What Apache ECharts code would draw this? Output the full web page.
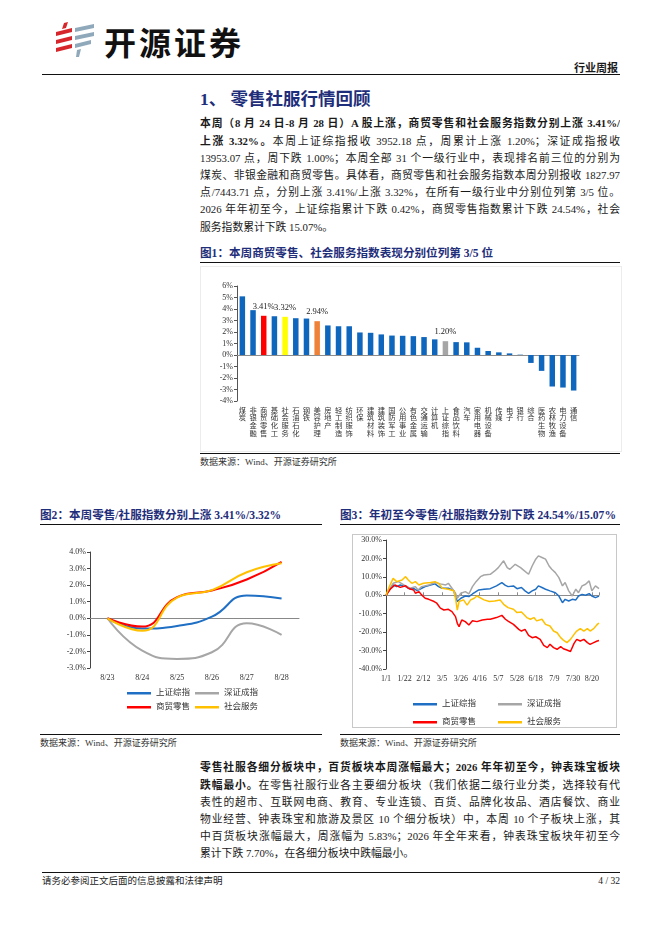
<!DOCTYPE html>
<html>
<head>
<meta charset="utf-8">
<script src="https://cdn.jsdelivr.net/npm/echarts@6/dist/echarts.min.js"></script>
<style>
  html, body { margin: 0; padding: 0; background: #fff; }
  body { width: 662px; height: 936px; position: relative; overflow: hidden;
         font-family: "Liberation Serif", "Noto Sans CJK SC", serif; color: #1a1a1a; }
  .abs { position: absolute; }
  .rule { position: absolute; height: 0; border-top: 1.3px solid #111; }
  .para { position: absolute; left: 200px; width: 420px; font-size: 10.8px; }
  .ln { height: 17.2px; line-height: 17.2px; text-align: justify; text-align-last: justify; overflow: hidden; }
  .ln.last { text-align-last: left; }
  b { font-weight: 700; }
  .ftitle { position: absolute; font-size: 11.6px; font-weight: 700; color: #1f2e7a; line-height: 14px; white-space: nowrap; }
  .src { position: absolute; font-size: 9px; line-height: 12px; color: #333; white-space: nowrap; }
</style>
</head>
<body>

<!-- header -->
<svg class="abs" style="left:55px;top:22px" width="40" height="36" viewBox="0 0 40 36">
  <polygon points="9,1 13,0 11,6 7,7" fill="#d7262b"/>
  <polygon points="1,10 17,6 17,10 1,14" fill="#d7262b"/>
  <polygon points="1,18 17,14 17,18 1,22" fill="#d7262b"/>
  <polygon points="1,26 17,22 17,26 1,30" fill="#d7262b"/>
  <polygon points="20,6 39,2 39,6 20,10" fill="#8fa9bb"/>
  <polygon points="20,14 39,10 39,14 20,18" fill="#8fa9bb"/>
  <polygon points="20,22 36,18 36,22 20,26" fill="#8fa9bb"/>
  <polygon points="22,28 26,27 24,35 21,35" fill="#8fa9bb"/>
</svg>
<div class="abs" style="left:104px;top:21px;font-family:'Noto Sans CJK SC';font-weight:700;font-size:32px;line-height:40px;letter-spacing:3px;color:#111">开源证券</div>
<div class="abs" style="left:574px;top:61px;font-size:11px;font-weight:700;line-height:14px">行业周报</div>
<div class="rule" style="left:42px;top:74px;width:578px"></div>

<div class="abs" style="left:200px;top:89px;font-size:17.5px;font-weight:700;color:#1f2e7a;line-height:20px;white-space:nowrap">1、 零售社服行情回顾</div>

<div class="para" style="top:115.4px">
  <div class="ln"><b>本周（8 月 24 日-8 月 28 日）A 股上涨，商贸零售和社会服务指数分别上涨 3.41%/</b></div>
  <div class="ln"><b>上涨 3.32%。</b>本周上证综指报收 3952.18 点，周累计上涨 1.20%；深证成指报收</div>
  <div class="ln">13953.07 点，周下跌 1.00%；本周全部 31 个一级行业中，表现排名前三位的分别为</div>
  <div class="ln">煤炭、非银金融和商贸零售。具体看，商贸零售和社会服务指数本周分别报收 1827.97</div>
  <div class="ln">点/7443.71 点，分别上涨 3.41%/上涨 3.32%，在所有一级行业中分别位列第 3/5 位。</div>
  <div class="ln">2026 年年初至今，上证综指累计下跌 0.42%，商贸零售指数累计下跌 24.54%，社会</div>
  <div class="ln last">服务指数累计下跌 15.07%。</div>
</div>

<!-- figure 1 -->
<div class="ftitle" style="left:200px;top:247px">图1：本周商贸零售、社会服务指数表现分别位列第 3/5 位</div>
<div class="rule" style="left:200px;top:262px;width:420px"></div>
<div id="fig1" class="abs" style="left:200px;top:266px;width:422px;height:186px;box-shadow:inset 0 0 0 1px #ececec"></div>
<div class="rule" style="left:200px;top:453px;width:420px"></div>
<div class="src" style="left:200px;top:456px">数据来源：Wind、开源证券研究所</div>

<!-- figure 2 / 3 -->
<div class="ftitle" style="left:40px;top:509px">图2：本周零售/社服指数分别上涨 3.41%/3.32%</div>
<div class="rule" style="left:40px;top:524px;width:282px"></div>
<div class="ftitle" style="left:340px;top:509px">图3：年初至今零售/社服指数分别下跌 24.54%/15.07%</div>
<div class="rule" style="left:340px;top:524px;width:280px"></div>

<div id="fig2" class="abs" style="left:40px;top:532px;width:284px;height:200px"></div>
<div id="fig3" class="abs" style="left:352px;top:534px;width:265px;height:194px;box-shadow:inset 0 0 0 1px #c8c8c8"></div>

<div class="rule" style="left:40px;top:734px;width:282px"></div>
<div class="src" style="left:40px;top:737px">数据来源：Wind、开源证券研究所</div>
<div class="rule" style="left:340px;top:734px;width:280px"></div>
<div class="src" style="left:340px;top:737px">数据来源：Wind、开源证券研究所</div>

<div class="para" style="top:759.4px">
  <div class="ln"><b>零售社服各细分板块中，百货板块本周涨幅最大；2026 年年初至今，钟表珠宝板块</b></div>
  <div class="ln"><b>跌幅最小。</b>在零售社服行业各主要细分板块（我们依据二级行业分类，选择较有代</div>
  <div class="ln">表性的超市、互联网电商、教育、专业连锁、百货、品牌化妆品、酒店餐饮、商业</div>
  <div class="ln">物业经营、钟表珠宝和旅游及景区 10 个细分板块）中，本周 10 个子板块上涨，其</div>
  <div class="ln">中百货板块涨幅最大，周涨幅为 5.83%；2026 年全年来看，钟表珠宝板块年初至今</div>
  <div class="ln last">累计下跌 7.70%，在各细分板块中跌幅最小。</div>
</div>

<div class="rule" style="left:42px;top:872px;width:578px"></div>
<div class="src" style="left:42px;top:875px;font-size:9.5px;color:#222">请务必参阅正文后面的信息披露和法律声明</div>
<div class="src" style="left:560px;width:60px;top:875px;font-size:9.5px;color:#222;text-align:right">4 / 32</div>

<script>
var FONT = '"Liberation Serif", "Noto Sans CJK SC", serif';

// ---- figure 1: weekly change by industry (%)
var industries = ['煤炭','非银金融','商贸零售','基础化工','社会服务','石油石化','钢铁','美容护理','房地产','轻工制造','纺织服饰','环保','建筑材料','建筑装饰','国防军工','公用事业','有色金属','交通运输','计算机','上证综指','食品饮料','汽车','家用电器','机械设备','传媒','电子','银行','综合','医药生物','农林牧渔','电力设备','通信'];
var weeklyChange = [5.10,3.90,3.41,3.37,3.32,3.20,3.17,2.94,2.57,2.50,2.50,1.96,1.93,1.79,1.69,1.67,1.64,1.56,1.36,1.20,1.12,1.10,0.63,0.35,0.23,0.14,0.03,-0.69,-1.38,-2.74,-2.83,-3.09];
var fig1Ticks = [-4,-3,-2,-1,0,1,2,3,4,5,6];

// ---- figure 2: this week, cumulative change (%)
var weekDays = ['8/23','8/24','8/25','8/26','8/27','8/28'];
var weekSh = [0,-0.62,-0.46,0.10,1.38,1.20];
var weekSz = [0,-1.95,-2.45,-2.05,-0.30,-1.00];
var weekRetail = [0,-0.50,1.28,1.68,2.34,3.41];
var weekService = [0,-0.75,1.25,1.70,2.78,3.32];

// ---- figure 3: year to date, cumulative change (%); x = days since 1/1
var ytdTickLabels = ['1/1','1/22','2/12','3/5','3/26','4/16','5/7','5/28','6/18','7/9','7/30','8/20'];
var shDays = [0,4,8,12,16,22,27,31,35,40,44,50,55,59,63,70,76,78,80,84,89,93,97,101,104,110,117,124,130,134,137,143,147,152,156,160,164,168,171,175,179,184,190,194,198,201,205,209,213,216,220,224,228,231,235,239];
var shVals = [0,3.0,5.6,4.7,5.6,4.7,3.3,3.8,2.5,3.8,4.7,5.6,6.2,4.7,3.8,3.8,2.5,-0.7,-3.4,-1.6,-0.4,-0.7,0.7,2.0,2.9,3.3,3.6,5.1,6.9,5.4,4.7,5.1,3.6,4.2,2.4,1.1,2.4,3.3,5.1,4.2,3.3,2.4,1.4,-0.4,-4.0,-2.2,-3.1,-2.2,-2.5,-0.4,0.5,0.0,0.9,-0.4,-1.3,-0.42];
var szDays = [0,4,8,14,20,27,33,36,40,48,55,61,67,70,74,78,80,84,89,93,97,101,106,110,117,122,126,132,136,139,145,151,154,160,164,168,171,175,179,183,186,190,194,198,201,205,209,213,216,220,224,228,231,235,239];
var szVals = [0,3.5,6.5,7.4,5.6,3.8,4.7,2.9,4.7,5.6,6.9,6.2,5.6,6.5,3.8,1.1,-1.6,1.1,2.0,0.7,4.7,7.4,10.1,11.0,11.4,13.2,15.0,18.7,15.0,14.1,16.8,15.0,13.8,11.4,15.9,19.6,21.4,20.5,19.6,15.9,14.1,12.3,9.6,5.1,6.9,2.4,-0.4,3.3,1.4,5.1,6.0,7.8,2.4,5.1,3.6];
var retailDays = [0,5,10,16,22,25,31,33,37,40,44,48,54,57,61,65,70,74,78,80,82,85,89,93,97,102,108,114,117,124,130,134,137,143,149,152,156,160,164,168,173,177,181,184,188,192,196,199,203,207,211,214,218,222,226,229,233,237,239];
var retailVals = [0,3.5,5.6,4.3,5.2,3.8,2.9,1.1,2.0,0.2,-1.6,-2.2,-3.4,-4.3,-7.0,-8.0,-7.6,-8.9,-11.6,-15.2,-17.0,-13.4,-14.3,-16.1,-13.8,-14.3,-13.4,-13.0,-13.0,-12.1,-10.9,-13.0,-14.0,-15.8,-18.5,-19.4,-18.5,-21.7,-23.0,-22.5,-23.9,-27.2,-28.4,-26.6,-28.4,-29.3,-27.9,-29.0,-29.7,-30.5,-26.1,-23.9,-24.8,-23.9,-25.7,-26.6,-25.7,-24.8,-24.54];
var serviceDays = [0,4,8,12,18,22,25,29,33,37,42,50,55,59,63,70,76,78,80,82,87,91,95,99,102,110,116,122,128,132,137,143,147,152,158,162,166,169,175,179,184,188,192,196,199,203,207,211,214,218,222,226,229,233,237,239];
var serviceVals = [0,5.0,9.2,7.4,8.3,10.1,8.3,6.5,7.4,5.6,6.5,6.9,7.4,6.5,3.8,3.3,2.5,-1.6,-8.0,-3.4,-2.5,-5.3,-2.5,-1.6,-0.4,-2.5,-3.4,-3.1,-2.5,-4.9,-6.7,-7.6,-9.4,-9.1,-12.1,-13.0,-12.1,-13.9,-13.0,-15.8,-16.7,-19.4,-20.3,-23.0,-24.3,-25.7,-23.9,-21.2,-19.4,-18.1,-19.4,-18.1,-19.4,-18.1,-15.8,-15.07];

var BLUE = '#1f6fc4', GRAY = '#a6a6a6', RED = '#ff0000', GOLD = '#ffc000';

function pairs(xs, ys) {
  return xs.map(function (x, i) { return [x, ys[i]]; });
}

// ---------------- figure 1
var barColors = { '商贸零售': '#ff0000', '社会服务': '#ffff00', '美容护理': '#ee8236', '上证综指': '#a6a6a6' };
var labelled = ['商贸零售', '社会服务', '美容护理', '上证综指'];
var chart1 = echarts.init(document.getElementById('fig1'));
chart1.setOption({
  animation: false,
  textStyle: { fontFamily: FONT },
  grid: { left: 37, right: 43, top: 20, bottom: 51 },
  xAxis: [{
    type: 'category',
    data: industries,
    axisLine: { show: false, onZero: false },
    axisTick: { show: false },
    axisLabel: {
      interval: 0, margin: 6, fontSize: 7.3, lineHeight: 7.6, color: '#333',
      formatter: function (v) { return v.split('').join('\n'); }
    }
  }, {
    type: 'category',
    data: industries,
    axisLine: { onZero: true, lineStyle: { color: '#8c8c8c', width: 1 } },
    axisTick: { inside: true, length: 3, lineStyle: { color: '#b8b8b8' } },
    axisLabel: { show: false }
  }],
  yAxis: {
    type: 'value',
    min: fig1Ticks[0], max: fig1Ticks[fig1Ticks.length - 1], interval: 1,
    axisLine: { show: true, lineStyle: { color: '#555' } },
    axisTick: { show: true, length: 3, lineStyle: { color: '#555' } },
    splitLine: { show: false },
    axisLabel: { fontSize: 8, color: '#333', margin: 4, formatter: '{value}%' }
  },
  series: [{
    type: 'bar',
    barWidth: 5.5,
    data: weeklyChange.map(function (v, i) {
      var name = industries[i];
      var item = { value: v, itemStyle: { color: barColors[name] || '#0f66bd' } };
      if (labelled.indexOf(name) >= 0) {
        item.label = { show: true, position: 'top', distance: 5, fontSize: 8.5, color: '#222',
                       formatter: function (p) { return p.value.toFixed(2) + '%'; } };
      }
      return item;
    })
  }]
});

// ---------------- figure 2
var chart2 = echarts.init(document.getElementById('fig2'));
var legendText = { fontSize: 8.5, color: '#333' };
chart2.setOption({
  animation: false,
  textStyle: { fontFamily: FONT },
  color: [BLUE, GRAY, RED, GOLD],
  legend: [
    { data: ['上证综指', '深证成指'], left: 82, top: 152, icon: 'rect', itemWidth: 24, itemHeight: 2.5, itemGap: 5, textStyle: legendText },
    { data: ['商贸零售', '社会服务'], left: 82, top: 166, icon: 'rect', itemWidth: 24, itemHeight: 2.5, itemGap: 5, textStyle: legendText }
  ],
  grid: { left: 50, right: 25, top: 20, bottom: 64 },
  xAxis: {
    type: 'category', data: weekDays, boundaryGap: true,
    axisLine: { onZero: true, lineStyle: { color: '#888' } },
    axisTick: { length: 4, lineStyle: { color: '#888' } },
    axisLabel: { fontSize: 8, color: '#333', margin: 6 }
  },
  yAxis: {
    type: 'value', min: -3, max: 4, interval: 1,
    axisLine: { show: true, lineStyle: { color: '#444' } },
    axisTick: { show: true, length: 3, lineStyle: { color: '#444' } },
    splitLine: { show: false },
    axisLabel: { fontSize: 8, color: '#333', margin: 4, formatter: function (v) { return v.toFixed(1) + '%'; } }
  },
  series: [
    { name: '上证综指', type: 'line', smooth: true, symbol: 'none', lineStyle: { width: 2 }, data: weekSh },
    { name: '深证成指', type: 'line', smooth: true, symbol: 'none', lineStyle: { width: 2 }, data: weekSz },
    { name: '商贸零售', type: 'line', smooth: true, symbol: 'none', lineStyle: { width: 2 }, data: weekRetail },
    { name: '社会服务', type: 'line', smooth: true, symbol: 'none', lineStyle: { width: 2 }, data: weekService }
  ]
});

// ---------------- figure 3
var chart3 = echarts.init(document.getElementById('fig3'));
chart3.setOption({
  animation: false,
  textStyle: { fontFamily: FONT },
  color: [BLUE, GRAY, RED, GOLD],
  legend: [
    { data: ['上证综指', '深证成指'], left: 56, top: 161, icon: 'rect', itemWidth: 24, itemHeight: 2.5, itemGap: 22, textStyle: legendText },
    { data: ['商贸零售', '社会服务'], left: 56, top: 179, icon: 'rect', itemWidth: 24, itemHeight: 2.5, itemGap: 22, textStyle: legendText }
  ],
  grid: { left: 34, right: 18, top: 6, bottom: 59 },
  xAxis: [{
    type: 'value', min: 0, max: 239, interval: 21,
    axisLine: { show: false, onZero: false },
    axisTick: { show: false },
    splitLine: { show: false },
    axisLabel: {
      fontSize: 8, color: '#333', margin: 6, showMaxLabel: false,
      formatter: function (v) { var i = v / 21; return (i % 1 === 0 && ytdTickLabels[i]) ? ytdTickLabels[i] : ''; }
    }
  }, {
    type: 'value', min: 0, max: 239, interval: 21,
    axisLine: { onZero: true, lineStyle: { color: '#8c8c8c' } },
    axisTick: { length: 3, lineStyle: { color: '#8c8c8c' } },
    splitLine: { show: false },
    axisLabel: { show: false }
  }],
  yAxis: {
    type: 'value', min: -40, max: 30, interval: 10,
    axisLine: { show: true, lineStyle: { color: '#444' } },
    axisTick: { show: true, length: 3, lineStyle: { color: '#444' } },
    splitLine: { show: false },
    axisLabel: { fontSize: 8, color: '#333', margin: 4, formatter: function (v) { return v.toFixed(1) + '%'; } }
  },
  series: [
    { name: '上证综指', type: 'line', symbol: 'none', lineStyle: { width: 1.5 }, data: pairs(shDays, shVals) },
    { name: '深证成指', type: 'line', symbol: 'none', lineStyle: { width: 1.5 }, data: pairs(szDays, szVals) },
    { name: '商贸零售', type: 'line', symbol: 'none', lineStyle: { width: 1.5 }, data: pairs(retailDays, retailVals) },
    { name: '社会服务', type: 'line', symbol: 'none', lineStyle: { width: 1.5 }, data: pairs(serviceDays, serviceVals) }
  ]
});
</script>
</body>
</html>
